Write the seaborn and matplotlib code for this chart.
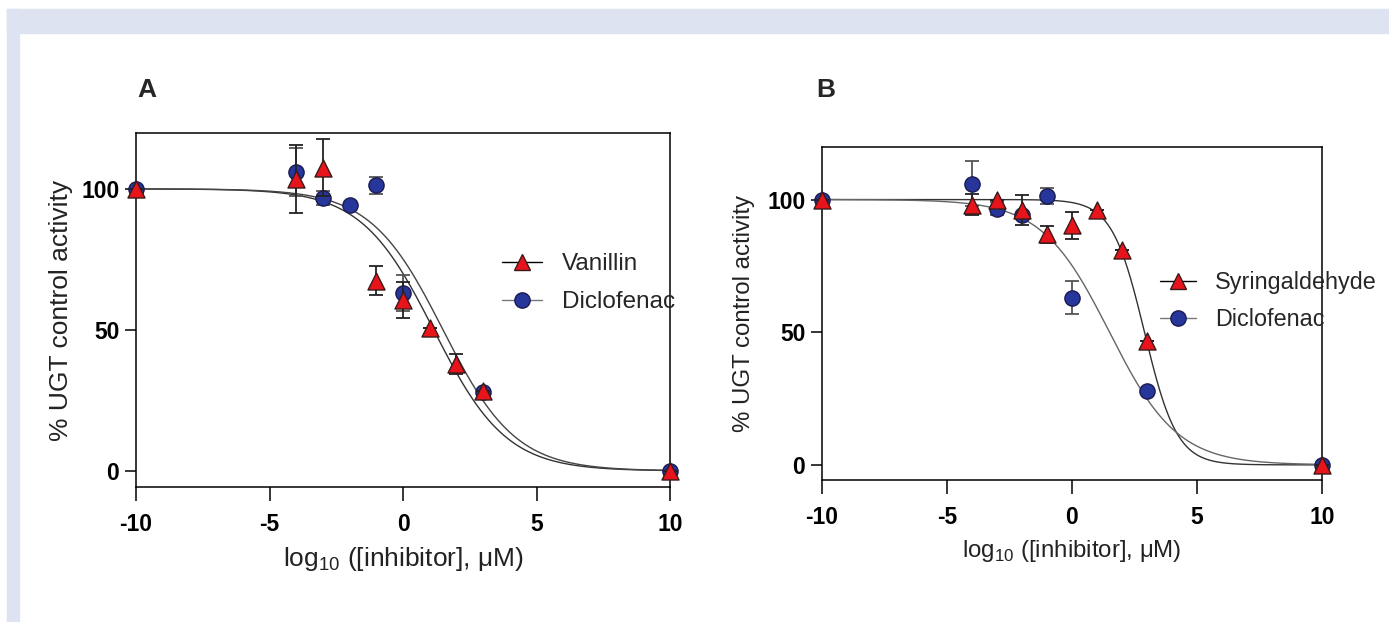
import numpy as np
import pandas as pd
import seaborn as sns
import matplotlib.pyplot as plt
from matplotlib.lines import Line2D
from matplotlib.patches import Rectangle

# log10 concentrations of the measured points
dic_x = [-10, -4, -3, -2, -1, 0, 3, 10]
dic_y = [100, 106, 96.6, 94.2, 101.2, 63, 28, 0]
dic_err = [0, 8.5, 2.5, 0, 3, 6.3, 0, 0]

van_x = [-10, -4, -3, -1, 0, 1, 2, 3, 10]
van_y = [100, 103.5, 107.5, 67.5, 60.5, 50.5, 37.8, 28.5, 0]
van_err = [0, 12, 10, 5, 6.3, 0, 3.6, 0, 0]

syr_x = [-10, -4, -3, -2, -1, 0, 1, 2, 3, 10]
syr_y = [100, 98, 99.7, 96, 87, 90.3, 96, 81, 46.5, 0]
syr_err = [0, 4, 0, 5.6, 3.2, 5, 0, 0, 0, 0]

# fitted curve parameters (logIC50, hill slope)
fit_dic = (1.5, 0.32)
fit_van = (1.15, 0.32)
fit_syr = (2.9, 0.67)

RED = '#e8141c'
BLUE = '#27369a'
FRAME = '#dee3f1'


def curve(params):
    c, h = params
    xs = np.linspace(-10, 10, 400)
    return pd.DataFrame({'x': xs, 'y': 100 / (1 + 10 ** (h * (xs - c)))})


def series(ax, x, y, err, marker, color, edge, ecolor, s, z):
    ax.errorbar(x, y, yerr=err, fmt='none', ecolor=ecolor, elinewidth=1.3,
                capsize=5, capthick=1.3, zorder=z, clip_on=False)
    sns.scatterplot(x=x, y=y, marker=marker, color=color, edgecolor=edge,
                    linewidth=1.0, s=s, ax=ax, zorder=z + 1, clip_on=False)


def style_axes(ax, fs, ypad):
    ax.set_xlim(-10, 10)
    ax.set_ylim(-5.7, 119.8)
    ax.set_xticks([-10, -5, 0, 5, 10])
    ax.set_yticks([0, 50, 100])
    for sp in ax.spines.values():
        sp.set_visible(True)
        sp.set_color('black')
        sp.set_linewidth(1.1)
    ax.tick_params(axis='x', direction='out', length=10, width=1.1, pad=9,
                   labelsize=16.5, colors='black')
    ax.tick_params(axis='y', direction='out', length=8, width=1.1, pad=4,
                   labelsize=16.5, colors='black')
    for lab in ax.get_xticklabels() + ax.get_yticklabels():
        lab.set_fontweight('bold')
    ax.set_xlabel(r'log$_{\mathregular{10}}$ ([inhibitor], μM)', fontsize=fs,
                  labelpad=6, color='#222222')
    ax.set_ylabel('% UGT control activity', fontsize=fs, labelpad=ypad,
                  color='#222222')
    ax.set_facecolor('white')


def legend(ax, lab1, lab2, anchor, fs, hl, tp, ls):
    h1 = Line2D([], [], color='black', lw=1, marker='^', markersize=12,
                markerfacecolor=RED, markeredgecolor='#3a1a1a')
    h2 = Line2D([], [], color='#777777', lw=1, marker='o', markersize=11,
                markerfacecolor=BLUE, markeredgecolor='#1a1a50')
    ax.legend([h1, h2], [lab1, lab2], loc='center left', bbox_to_anchor=anchor,
              frameon=False, fontsize=fs, handlelength=hl, handletextpad=tp,
              labelspacing=ls, borderpad=0, borderaxespad=0)


sns.set_theme(style='ticks')
plt.rcParams['font.family'] = ['Liberation Sans', 'DejaVu Sans']
plt.rcParams['mathtext.fontset'] = 'custom'
plt.rcParams['mathtext.rm'] = 'Liberation Sans'
plt.rcParams['axes.unicode_minus'] = False

fig = plt.figure(figsize=(13.89, 6.22), dpi=100)
fig.patch.set_facecolor('white')
fig.patches.append(Rectangle((7 / 1389, 0), 12 / 1389, 613 / 622,
                             transform=fig.transFigure, color=FRAME, zorder=0))
fig.patches.append(Rectangle((7 / 1389, 589 / 622), 1382 / 1389, 24 / 622,
                             transform=fig.transFigure, color=FRAME, zorder=0))

axA = fig.add_axes([136 / 1389, 1 - 487 / 622, 534 / 1389, 354 / 622])
axB = fig.add_axes([822 / 1389, 1 - 480 / 622, 500 / 1389, 333 / 622])

# panel A
sns.lineplot(data=curve(fit_van), x='x', y='y', color='#333333', lw=1, ax=axA)
sns.lineplot(data=curve(fit_dic), x='x', y='y', color='#444444', lw=1, ax=axA)
series(axA, dic_x, dic_y, dic_err, 'o', BLUE, '#1a1a50', '#555555', 120, 3)
series(axA, van_x, van_y, van_err, '^', RED, '#3a1a1a', '#222222', 150, 5)
style_axes(axA, 19, 6)
legend(axA, 'Vanillin', 'Diclofenac', (0.685, 0.576), 17.5, 1.65, 0.82, 0.65)

# panel B
sns.lineplot(data=curve(fit_syr), x='x', y='y', color='#333333', lw=1, ax=axB)
sns.lineplot(data=curve(fit_dic), x='x', y='y', color='#666666', lw=1, ax=axB)
series(axB, dic_x, dic_y, dic_err, 'o', BLUE, '#1a1a50', '#555555', 120, 3)
series(axB, syr_x, syr_y, syr_err, '^', RED, '#3a1a1a', '#222222', 150, 5)
style_axes(axB, 17.3, 9)
legend(axB, 'Syringaldehyde', 'Diclofenac', (0.676, 0.5375), 16.8, 1.55, 0.8, 0.59)

fig.text(147 / 1389, 1 - 90 / 622, 'A', fontsize=19, fontweight='bold',
         ha='center', va='center')
fig.text(826 / 1389, 1 - 90 / 622, 'B', fontsize=19, fontweight='bold',
         ha='center', va='center')

fig.savefig('out.png', dpi=100, facecolor='white')
